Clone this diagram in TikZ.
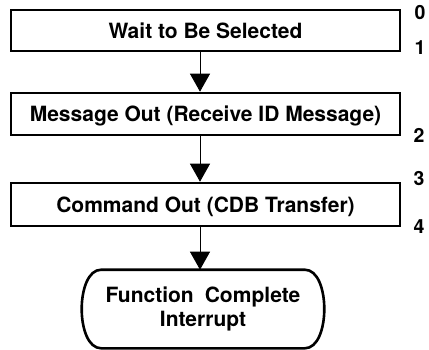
\documentclass[tikz,border=0pt]{standalone}
\usepackage{fontspec}
\setmainfont{TeX Gyre Heros}
\usetikzlibrary{arrows.meta}
\begin{document}
\begin{tikzpicture}[x=1pt,y=-1pt,
  stepbox/.style={draw,line width=2.6pt,minimum width=389pt,inner sep=0pt,
    font=\fontsize{21}{24}\selectfont\bfseries,text height=15pt,text depth=0pt},
  flow/.style={line width=0.9pt,-{Triangle[width=20pt,length=18pt]}},
  termline/.style={line width=2.6pt},
  num/.style={font=\fontsize{19.5}{22}\selectfont\bfseries,inner sep=0pt}]
\useasboundingbox (0,0) rectangle (429,349);
\node[stepbox,minimum height=41pt] (b1) at (205.5,30.5) {Wait to Be Selected};
\node[stepbox,minimum height=42pt] (b2) at (205.5,114) {Message Out (Receive ID Message)};
\node[stepbox,minimum height=43pt] (b3) at (205.5,204.5) {Command Out (CDB Transfer)};
\node[draw=none,minimum width=245pt,minimum height=76pt,outer sep=1.3pt,align=center,
  font=\fontsize{21}{24}\selectfont\bfseries] (t) at (203,309) {Function\hspace{0.25em} Complete\\Interrupt};
\draw[termline] ([xshift=22pt]t.north west) -- ([xshift=-22pt]t.north east)
  .. controls ([xshift=4pt]t.north east) and ([xshift=4pt]t.south east) .. ([xshift=-22pt]t.south east)
  -- ([xshift=22pt]t.south west)
  .. controls ([xshift=-4pt]t.south west) and ([xshift=-4pt]t.north west) .. cycle;
\draw[flow] ([xshift=-5.5pt]b1.south) -- ([xshift=-5.5pt]b2.north);
\draw[flow] ([xshift=-5.5pt]b2.south) -- ([xshift=-5.5pt]b3.north);
\draw[flow] ([xshift=-5.5pt]b3.south) -- ([xshift=-3pt]t.north);
\node[num] (n0) at (420,13) {0};
\node[num] (n1) at (420,47.5) {1};
\node[num] (n2) at (419,135) {2};
\node[num] (n3) at (419,179) {3};
\node[num] (n4) at (419,227) {4};
\end{tikzpicture}
\end{document}
